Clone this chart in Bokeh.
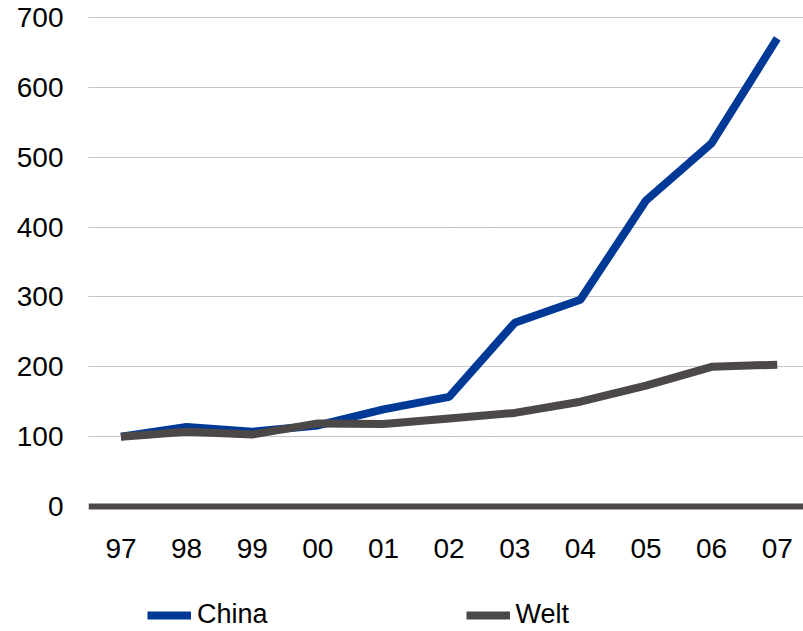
from bokeh.plotting import figure
from bokeh.models import Range1d, FixedTicker, Span, Legend, LegendItem
from bokeh.layouts import column
from bokeh.embed import file_html
from bokeh.resources import INLINE

years = ["97", "98", "99", "00", "01", "02", "03", "04", "05", "06", "07"]
china = [100, 114, 107, 116, 139, 157, 263, 296, 438, 520, 670]
welt = [100, 107, 103, 119, 118, 126, 134, 150, 173, 200, 203]
y_ticks = [0, 100, 200, 300, 400, 500, 600, 700]
series_names = ["China", "Welt"]
series_colors = ["#003a96", "#4d4848"]

FONT = "Liberation Sans"
x = list(range(len(years)))

p = figure(width=803, height=575, output_backend="svg", toolbar_location=None,
           x_range=Range1d(-0.495, 10.40), y_range=Range1d(-5.7, 701.4),
           min_border_left=88, min_border_right=0, min_border_top=16, min_border_bottom=65)
p.outline_line_color = None
p.background_fill_color = "white"

p.xgrid.visible = False
p.ygrid.ticker = FixedTicker(ticks=[t for t in y_ticks if t > 0])
p.ygrid.grid_line_color = "#8c8c8c"
p.ygrid.grid_line_dash = "1 1"
p.ygrid.grid_line_width = 1

p.yaxis.ticker = FixedTicker(ticks=y_ticks)
p.xaxis.ticker = FixedTicker(ticks=x)
p.xaxis.major_label_overrides = {i: s for i, s in enumerate(years)}
for ax in (p.xaxis, p.yaxis):
    ax.axis_line_color = None
    ax.major_tick_line_color = None
    ax.minor_tick_line_color = None
    ax.major_tick_out = 0
    ax.major_tick_in = 0
    ax.major_label_text_font = FONT
    ax.major_label_text_font_size = "28px"
    ax.major_label_text_color = "black"
p.yaxis.major_label_standoff = 25
p.xaxis.major_label_standoff = 28

zero = Span(location=0, dimension="width", line_color="#4d4848", line_width=6)
p.add_layout(zero)

p.line(x, china, line_color=series_colors[0], line_width=8)
p.line(x, welt, line_color=series_colors[1], line_width=8)

# legend strip below the chart (its frame is aligned with the chart frame)
p2 = figure(width=803, height=56, output_backend="svg", toolbar_location=None,
            x_axis_type=None, y_axis_type=None,
            x_range=Range1d(0, 1), y_range=Range1d(0, 1),
            min_border_left=0, min_border_right=0, min_border_top=0, min_border_bottom=0)
p2.grid.visible = False
p2.outline_line_color = None
dummies = [p2.line([5, 6], [5, 5], line_color=c, line_width=8) for c in series_colors]

legend = Legend(items=[LegendItem(label=n, renderers=[r]) for n, r in zip(series_names, dummies)],
                orientation="horizontal", location=(59, 1),
                glyph_width=44, glyph_height=28, label_standoff=6, spacing=198,
                padding=0, margin=0, border_line_color=None, background_fill_alpha=0,
                label_text_font=FONT, label_text_font_size="27px", label_height=28,
                label_text_color="black")
p2.add_layout(legend, "center")

open("out.html", "w").write(file_html(column(p, p2, spacing=0), INLINE))
